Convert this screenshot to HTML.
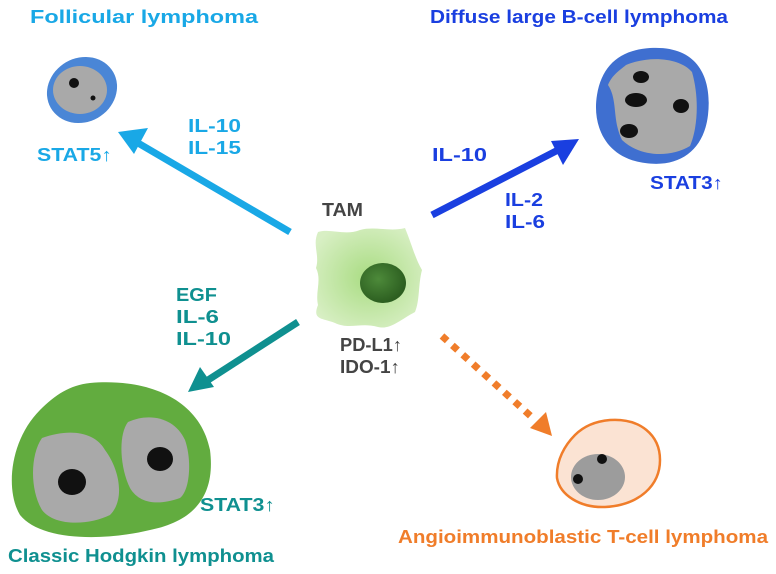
<!DOCTYPE html>
<html><head><meta charset="utf-8"><style>
html,body{margin:0;padding:0;background:#fff;}
svg{display:block;}
text{font-family:"Liberation Sans",sans-serif;font-weight:bold;font-size:18px;}
</style></head><body>
<svg width="776" height="574" viewBox="0 0 776 574">
<defs>
<radialGradient id="tam" cx="50%" cy="50%" r="60%"><stop offset="0" stop-color="#a9dc82"/><stop offset="1" stop-color="#d8efc4"/></radialGradient>
<radialGradient id="nuc" cx="40%" cy="40%" r="60%"><stop offset="0" stop-color="#4d8a3a"/><stop offset="1" stop-color="#2c5e20"/></radialGradient>
</defs>
<text x="30" y="23" fill="#19a8e6" textLength="228" lengthAdjust="spacingAndGlyphs">Follicular lymphoma</text>
<ellipse cx="82" cy="90" rx="36" ry="32" fill="#4a86d6" transform="rotate(-30 82 90)"/>
<ellipse cx="80" cy="90" rx="27" ry="24" fill="#a9a9a9"/>
<circle cx="74" cy="83" r="5" fill="#111"/><circle cx="93" cy="98" r="2.5" fill="#111"/>
<text x="37" y="161" fill="#19a8e6" textLength="75" lengthAdjust="spacingAndGlyphs">STAT5↑</text>
<text x="188" y="132" fill="#19a8e6" textLength="53" lengthAdjust="spacingAndGlyphs">IL-10</text>
<text x="188" y="154" fill="#19a8e6" textLength="53" lengthAdjust="spacingAndGlyphs">IL-15</text>
<line x1="290" y1="232" x2="138" y2="143" stroke="#19a8e6" stroke-width="7"/>
<polygon points="118,132 148,128 134,154" fill="#19a8e6"/>
<text x="430" y="23" fill="#1a3fe0" textLength="298" lengthAdjust="spacingAndGlyphs">Diffuse large B-cell lymphoma</text>
<path d="M650,48 C700,45 712,80 708,115 C704,150 680,168 645,163 C605,158 592,125 597,95 C602,65 620,50 650,48Z" fill="#3f6fd0"/>
<path d="M626,65 C650,55 680,58 692,72 C700,100 697,130 690,146 C670,158 640,157 622,140 C612,120 618,100 608,85 C612,75 620,70 626,65Z" fill="#a9a9a9"/>
<ellipse cx="641" cy="77" rx="8" ry="6" fill="#111"/>
<ellipse cx="636" cy="100" rx="11" ry="7" fill="#111"/>
<ellipse cx="681" cy="106" rx="8" ry="7" fill="#111"/>
<ellipse cx="629" cy="131" rx="9" ry="7" fill="#111"/>
<text x="650" y="189" fill="#1a3fe0" textLength="73" lengthAdjust="spacingAndGlyphs">STAT3↑</text>
<text x="432" y="161" fill="#1a3fe0" textLength="55" lengthAdjust="spacingAndGlyphs">IL-10</text>
<text x="505" y="206" fill="#1a3fe0" textLength="38" lengthAdjust="spacingAndGlyphs">IL-2</text>
<text x="505" y="228" fill="#1a3fe0" textLength="40" lengthAdjust="spacingAndGlyphs">IL-6</text>
<line x1="432" y1="215" x2="560" y2="149" stroke="#1a3fe0" stroke-width="7"/>
<polygon points="579,139 563,165 551,141" fill="#1a3fe0"/>
<text x="322" y="216" fill="#444" textLength="41" lengthAdjust="spacingAndGlyphs">TAM</text>
<path d="M318,232 C330,228 345,236 360,230 C375,226 390,232 405,228 C412,245 415,258 422,270 C418,285 420,300 415,312 C400,320 390,330 378,327 C360,322 350,330 335,323 C322,318 312,320 318,305 C315,292 322,280 316,268 C320,255 312,245 318,232Z" fill="url(#tam)"/>
<ellipse cx="383" cy="283" rx="23" ry="20" fill="url(#nuc)"/>
<text x="340" y="351" fill="#444" textLength="62" lengthAdjust="spacingAndGlyphs">PD-L1↑</text>
<text x="340" y="373" fill="#444" textLength="60" lengthAdjust="spacingAndGlyphs">IDO-1↑</text>
<text x="176" y="301" fill="#0f9090" textLength="41" lengthAdjust="spacingAndGlyphs">EGF</text>
<text x="176" y="323" fill="#0f9090" textLength="43" lengthAdjust="spacingAndGlyphs">IL-6</text>
<text x="176" y="345" fill="#0f9090" textLength="55" lengthAdjust="spacingAndGlyphs">IL-10</text>
<line x1="298" y1="322" x2="205" y2="382" stroke="#0f9090" stroke-width="7"/>
<polygon points="188,392 200,367 214,387" fill="#0f9090"/>
<path d="M90,383 C150,378 200,400 210,450 C215,490 200,520 150,530 C100,542 40,540 20,515 C5,490 10,440 40,410 C55,395 70,385 90,383Z" fill="#62ac3f"/>
<path d="M42,438 C70,428 95,432 105,450 C120,470 125,500 110,515 C90,525 55,527 42,510 C30,490 30,455 42,438Z" fill="#a9a9a9"/>
<path d="M128,422 C150,412 175,418 185,440 C192,460 190,490 180,498 C160,505 140,505 130,488 C120,468 118,435 128,422Z" fill="#a9a9a9"/>
<ellipse cx="72" cy="482" rx="14" ry="13" fill="#111"/>
<ellipse cx="160" cy="459" rx="13" ry="12" fill="#111"/>
<text x="200" y="511" fill="#0f9090" textLength="75" lengthAdjust="spacingAndGlyphs">STAT3↑</text>
<text x="8" y="562" fill="#0f9090" textLength="266" lengthAdjust="spacingAndGlyphs">Classic Hodgkin lymphoma</text>
<line x1="442" y1="336" x2="535" y2="420" stroke="#f07d2a" stroke-width="7" stroke-dasharray="7,7"/>
<polygon points="552,436 530,428 546,412" fill="#f07d2a"/>
<path d="M610,420 C640,418 660,435 660,460 C660,485 640,505 605,507 C580,508 560,495 557,478 C556,460 565,445 575,435 C585,425 598,421 610,420Z" fill="#fbe3d3" stroke="#f07d2a" stroke-width="2.5"/>
<ellipse cx="598" cy="477" rx="27" ry="23" fill="#9c9c9c"/>
<circle cx="602" cy="459" r="5" fill="#111"/><circle cx="578" cy="479" r="5" fill="#111"/>
<text x="398" y="543" fill="#f07d2a" textLength="370" lengthAdjust="spacingAndGlyphs">Angioimmunoblastic T-cell lymphoma</text>
</svg>
</body></html>
